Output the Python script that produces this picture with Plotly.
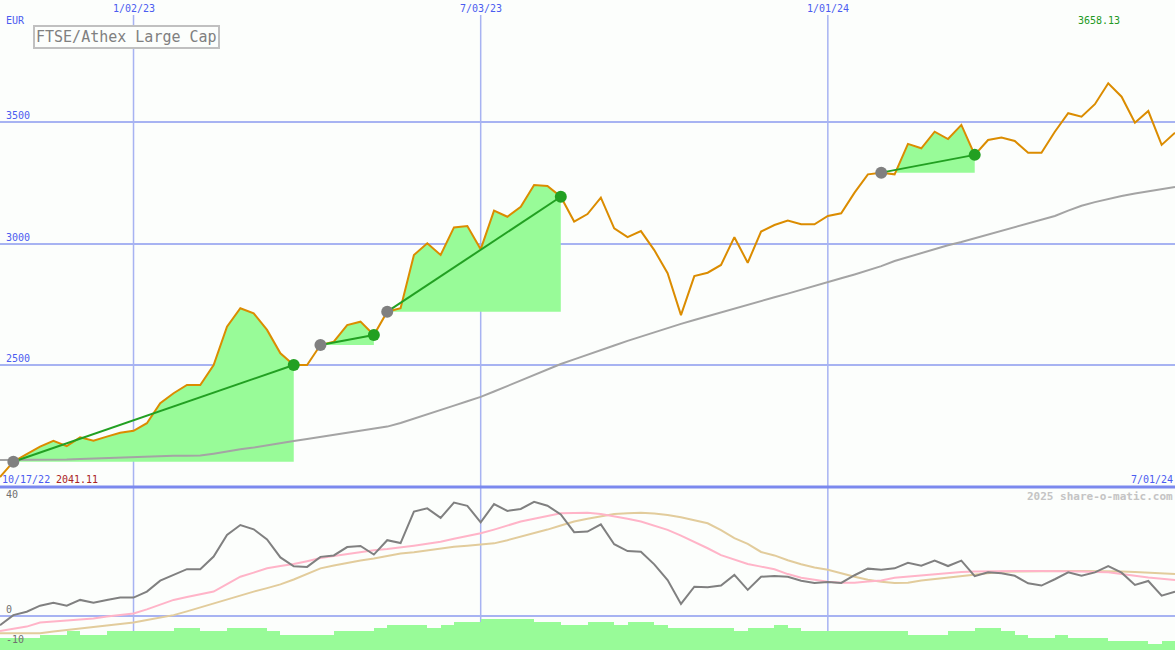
import pandas as pd
import plotly.graph_objects as go

# ---------------- data ----------------
start_date = "2022-10-24"
dates = pd.date_range(start_date, periods=89, freq="7D")

price = [2041.11, 2104, 2135, 2166, 2190, 2168, 2204, 2190, 2207, 2223,
         2231, 2262, 2344, 2385, 2419, 2419, 2501, 2658, 2734, 2713,
         2645, 2549, 2501, 2501, 2583, 2597, 2665, 2679, 2624, 2720,
         2734, 2953, 3001, 2953, 3066, 3072, 2976, 3135, 3110, 3151,
         3240, 3236, 3192, 3090, 3121, 3188, 3062, 3026, 3051, 2973,
         2878, 2706, 2866, 2880, 2912, 3026, 2921, 3049, 3076, 3094,
         3079, 3079, 3113, 3124, 3209, 3284, 3291, 3284, 3409, 3391,
         3459, 3429, 3487, 3364, 3425, 3435, 3421, 3373, 3373, 3459,
         3535, 3521, 3572, 3658.13, 3603, 3496, 3544, 3405, 3455]

long_ma = [2111, 2111, 2112, 2112, 2112, 2113, 2115, 2117, 2119, 2121,
           2124, 2126, 2127, 2128, 2128, 2129, 2137, 2147, 2155, 2162,
           2172, 2180, 2189, 2197, 2205, 2214, 2222, 2229, 2238, 2248,
           2263, 2280, 2297, 2316, 2334, 2352, 2370, 2392, 2415, 2439,
           2461, 2483, 2505, 2524, 2544, 2563, 2581, 2600, 2618, 2636,
           2653, 2670, 2686, 2702, 2717, 2732, 2748, 2764, 2779, 2794,
           2809, 2825, 2841, 2857, 2873, 2890, 2907, 2928, 2945, 2960,
           2977, 2993, 3006, 3021, 3036, 3051, 3066, 3081, 3097, 3113,
           3135, 3155, 3170, 3183, 3195, 3205, 3215, 3224, 3232]

momentum = [-3.3, 0.2, 1.4, 3.5, 4.5, 3.5, 5.5, 4.5, 5.5, 6.3,
            6.3, 8.4, 12.2, 14.2, 16.2, 16.2, 20.6, 28.1, 31.6, 30.1,
            26.6, 20.3, 17.2, 17.0, 20.5, 21.0, 23.9, 24.3, 21.3, 26.3,
            25.3, 36.3, 37.4, 34.1, 39.4, 38.3, 32.5, 38.9, 36.5, 37.2,
            39.7, 38.3, 35.3, 29.1, 29.3, 31.8, 24.9, 22.5, 22.3, 17.9,
            12.4, 4.1, 10.1, 9.9, 10.5, 14.2, 9.0, 13.6, 13.8, 13.6,
            12.2, 11.4, 11.7, 11.4, 14.1, 16.4, 16.0, 16.5, 18.4, 17.4,
            19.2, 17.3, 19.2, 13.8, 15.1, 14.8, 13.9, 11.3, 10.5, 12.7,
            15.1, 13.9, 15.1, 17.3, 15.0, 10.7, 12.1, 7.0, 8.4]

mom_fast = [-5.3, -4.6, -3.8, -2.4, -2.1, -1.8, -1.5, -1.0, -0.3, 0.3,
            0.8, 2.2, 3.8, 5.5, 6.5, 7.5, 8.4, 11.0, 13.6, 15.0,
            16.5, 17.3, 18.0, 19.0, 20.1, 20.8, 21.5, 22.2, 22.8, 23.2,
            23.7, 24.4, 25.1, 25.8, 26.8, 27.7, 28.7, 30.0, 31.4, 32.8,
            33.8, 34.8, 35.7, 35.8, 35.9, 35.4, 34.7, 33.8, 32.8, 31.4,
            29.9, 27.9, 25.8, 23.5, 21.1, 19.5, 18.0, 17.1, 16.2, 14.5,
            13.2, 12.5, 11.8, 11.5, 11.5, 11.9, 12.3, 13.2, 13.6, 14.1,
            14.5, 14.9, 15.2, 15.4, 15.5, 15.6, 15.6, 15.6, 15.6, 15.6,
            15.5, 15.4, 15.2, 15.1, 14.5, 13.8, 13.3, 12.9, 12.4]

mom_slow = [-6.1, -6.1, -6.1, -6.1, -5.5, -4.9, -4.4, -3.9, -3.4, -2.9,
            -2.4, -1.5, -0.6, 0.2, 1.5, 2.9, 4.3, 5.7, 7.0, 8.4,
            9.6, 10.9, 12.6, 14.5, 16.5, 17.5, 18.4, 19.2, 19.9, 20.8,
            21.7, 22.1, 22.8, 23.5, 24.0, 24.4, 24.8, 25.2, 26.3, 27.5,
            28.7, 30.0, 31.4, 32.8, 33.8, 34.7, 35.4, 35.7, 35.9, 35.6,
            35.1, 34.3, 33.3, 32.2, 29.8, 27.0, 25.0, 22.2, 21.0, 19.3,
            17.9, 16.8, 16.0, 14.7, 13.6, 12.5, 11.8, 11.4, 11.5, 12.3,
            12.8, 13.4, 13.9, 14.4, 14.8, 15.3, 15.4, 15.5, 15.5, 15.6,
            15.6, 15.6, 15.6, 15.6, 15.4, 15.2, 15.0, 14.8, 14.5]

volume = [12.3, 12.3, 12.3, 15, 15, 19, 15, 15, 19, 19,
          19, 19, 19, 22, 22, 19, 19, 22, 22, 22,
          19, 15, 15, 15, 15, 19, 19, 19, 22, 25,
          25, 25, 22, 25, 28, 28, 31, 31, 31, 31,
          28, 28, 25, 25, 28, 28, 25, 28, 28, 25,
          22, 22, 22, 22, 22, 19, 22, 22, 25, 22,
          19, 19, 19, 19, 19, 19, 19, 19, 15, 15,
          15, 19, 19, 22, 22, 19, 15, 12, 12, 15,
          12, 12, 12, 9, 9, 9, 6, 9, 9]

trade_entry_idx = [1, 24, 29, 66]
trade_exit_idx = [22, 28, 42, 73]

x_tick_dates = ["2023-01-02", "2023-07-03", "2024-01-01"]
x_tick_labels = ["1/02/23", "7/03/23", "1/01/24"]
y_main_ticks = [2500, 3000, 3500]
y_low_ticks = [40, 0, -10]
y_low_grid = [0]

title_text = "FTSE/Athex Large Cap"
currency = "EUR"
start_label = "10/17/22"
end_label = "7/01/24"
min_label = "2041.11"
max_label = "3658.13"
credit = "2025 share-o-matic.com"

# ---------------- styles ----------------
W, H = 1175, 650
FONT = "DejaVu Sans Mono"
BLUE_TXT = "#4b5cf0"
GRID = "#a7b3f2"
SEP = "#7b89ee"
ORANGE = "#db8c00"
MA_GRAY = "#a4a4a4"
MOM = "#808080"
PINK = "#ffb4c8"
TAN = "#e2cc9c"
FILL = "#98fb98"
GREEN = "#22a022"
BG = "#fcfefc"

split = 163 / H  # lower panel height fraction

fig = go.Figure()

# trade fills (green area between entry level and price)
for a, b in zip(trade_entry_idx, trade_exit_idx):
    xs = list(dates[a:b + 1])
    base = [price[a]] * len(xs)
    upper = [max(p, price[a]) for p in price[a:b + 1]]
    fig.add_trace(go.Scatter(x=xs, y=base, mode="lines", line=dict(width=0),
                             hoverinfo="skip", showlegend=False))
    fig.add_trace(go.Scatter(x=xs, y=upper, mode="lines", line=dict(width=0),
                             fill="tonexty", fillcolor=FILL,
                             hoverinfo="skip", showlegend=False))

# long moving average
fig.add_trace(go.Scatter(x=dates, y=long_ma, mode="lines",
                         line=dict(color=MA_GRAY, width=2), showlegend=False))
# price
fig.add_trace(go.Scatter(x=dates, y=price, mode="lines",
                         line=dict(color=ORANGE, width=2), showlegend=False))
# trade lines and markers
for a, b in zip(trade_entry_idx, trade_exit_idx):
    fig.add_trace(go.Scatter(x=[dates[a], dates[b]], y=[price[a], price[b]],
                             mode="lines", line=dict(color=GREEN, width=2),
                             showlegend=False))
fig.add_trace(go.Scatter(x=[dates[i] for i in trade_entry_idx],
                         y=[price[i] for i in trade_entry_idx], mode="markers",
                         marker=dict(color="#808080", size=12), showlegend=False))
fig.add_trace(go.Scatter(x=[dates[i] for i in trade_exit_idx],
                         y=[price[i] for i in trade_exit_idx], mode="markers",
                         marker=dict(color=GREEN, size=12), showlegend=False))

# volume bars (lower panel base axis)
fig.add_trace(go.Bar(x=dates, y=volume, yaxis="y2", marker=dict(color=FILL, line=dict(width=0)),
                     width=7 * 86400000, offset=0, showlegend=False))
# momentum lines
fig.add_trace(go.Scatter(x=dates, y=mom_slow, yaxis="y3", mode="lines",
                         line=dict(color=TAN, width=2), showlegend=False))
fig.add_trace(go.Scatter(x=dates, y=mom_fast, yaxis="y3", mode="lines",
                         line=dict(color=PINK, width=2), showlegend=False))
fig.add_trace(go.Scatter(x=dates, y=momentum, yaxis="y3", mode="lines",
                         line=dict(color=MOM, width=2), showlegend=False))

shapes = []
for d in x_tick_dates:
    shapes.append(dict(type="line", xref="x", yref="paper", x0=d, x1=d,
                       y0=0, y1=1 - 15 / H, line=dict(color=GRID, width=1.5),
                       layer="below"))
shapes.append(dict(type="line", xref="paper", yref="paper", x0=0, x1=1,
                   y0=split, y1=split, line=dict(color=SEP, width=3), layer="above"))

ann = []
for d, t in zip(x_tick_dates, x_tick_labels):
    ann.append(dict(x=d, xref="x", y=1 - 9 / H, yref="paper", text=t,
                    showarrow=False, font=dict(family=FONT, size=10, color=BLUE_TXT),
                    xanchor="center", yanchor="middle"))
for v in y_main_ticks:
    ann.append(dict(x=4 / W, xref="paper", y=v, yref="y", text=str(v),
                    showarrow=False, font=dict(family=FONT, size=10, color=BLUE_TXT),
                    xanchor="left", yanchor="bottom", yshift=-1))
for v in y_low_ticks:
    ann.append(dict(x=4 / W, xref="paper", y=v, yref="y3", text=str(v),
                    showarrow=False, font=dict(family=FONT, size=10, color="#707070"),
                    xanchor="left", yanchor="bottom", yshift=-3 if v < 0 else -1))
ann += [
    dict(x=4 / W, xref="paper", y=1 - 20 / H, yref="paper", text=currency,
         showarrow=False, font=dict(family=FONT, size=10, color=BLUE_TXT),
         xanchor="left", yanchor="middle"),
    dict(x=33 / W, xref="paper", y=1 - 25 / H, yref="paper", text=title_text,
         showarrow=False, font=dict(family=FONT, size=15, color="#808080"),
         xanchor="left", yanchor="top", bordercolor="#c0c0c0", borderwidth=2,
         borderpad=1, bgcolor=BG),
    dict(x=0, xref="paper", y=1 - 479 / H, yref="paper", text=start_label,
         showarrow=False, font=dict(family=FONT, size=10, color=BLUE_TXT),
         xanchor="left", yanchor="middle"),
    dict(x=54 / W, xref="paper", y=1 - 479 / H, yref="paper", text=min_label,
         showarrow=False, font=dict(family=FONT, size=10, color="#aa2222"),
         xanchor="left", yanchor="middle"),
    dict(x=1, xref="paper", y=1 - 479 / H, yref="paper", text=end_label,
         showarrow=False, font=dict(family=FONT, size=10, color=BLUE_TXT),
         xanchor="right", yanchor="middle"),
    dict(x=1076 / W, xref="paper", y=1 - 21 / H, yref="paper", text=max_label,
         showarrow=False, font=dict(family=FONT, size=10, color="#229922"),
         xanchor="left", yanchor="middle"),
    dict(x=1, xref="paper", y=1 - 496 / H, yref="paper", text="<b>" + credit + "</b>",
         showarrow=False, font=dict(family=FONT, size=11, color="#c4c4c4"),
         xanchor="right", yanchor="middle"),
]

fig.update_layout(
    width=W, height=H,
    margin=dict(l=0, r=0, t=0, b=0),
    paper_bgcolor=BG, plot_bgcolor="rgba(0,0,0,0)",
    showlegend=False, barmode="overlay", bargap=0,
    xaxis=dict(type="date", range=[start_date, "2024-07-01"], visible=False,
               showgrid=False, zeroline=False),
    yaxis=dict(domain=[split, 1], range=[2000, 4000], tickvals=y_main_ticks,
               showticklabels=False, showgrid=True, gridcolor=GRID, gridwidth=2,
               zeroline=False, showline=False, ticks=""),
    yaxis2=dict(domain=[0, split], range=[0, 163], visible=False,
                showgrid=False, zeroline=False),
    yaxis3=dict(overlaying="y2", range=[-11.95, 44.84], tickvals=y_low_grid,
                showticklabels=False, showgrid=True, gridcolor=GRID, gridwidth=2,
                zeroline=False, showline=False, ticks=""),
    shapes=shapes, annotations=ann,
)

fig.write_html("out.html", config={"displayModeBar": False},
               post_script="document.body.style.margin='0px';document.body.style.overflow='hidden';")
